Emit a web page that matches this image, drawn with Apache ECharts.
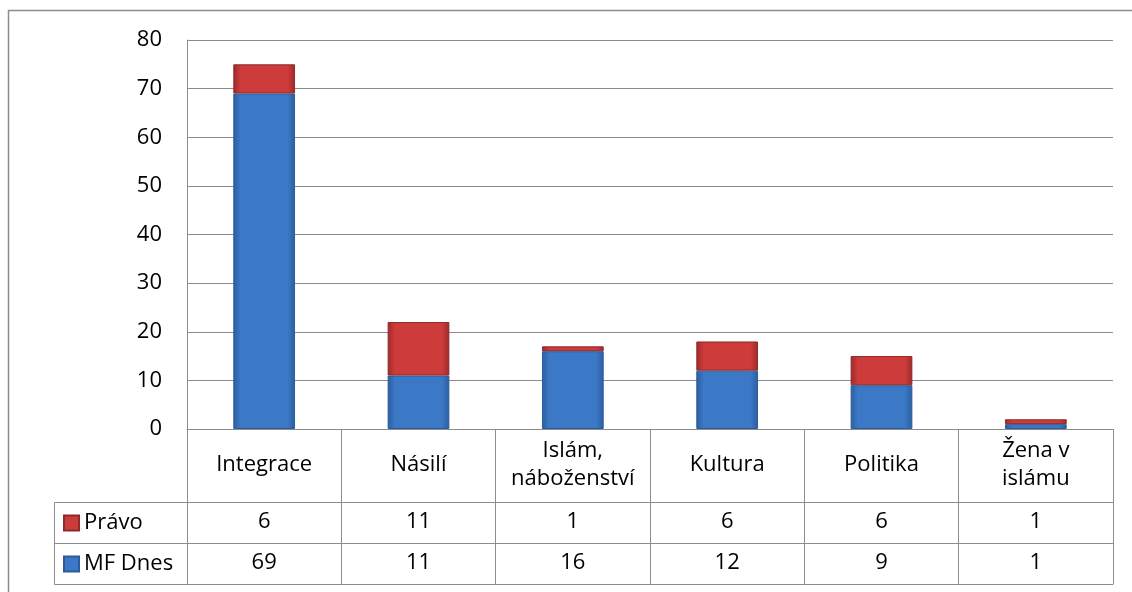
<!DOCTYPE html>
<html>
<head>
<meta charset="utf-8">
<script src="https://cdn.jsdelivr.net/npm/echarts@6/dist/echarts.min.js"></script>
<style>
    html, body { margin: 0; padding: 0; background: #fff; }
    #chart { width: 1132px; height: 592px; }
</style>
</head>
<body>
<div id="chart"></div>
<script>
// data
var categories = ["Integrace", "Násilí", "Islám,\nnáboženství", "Kultura", "Politika", "Žena v\nislámu"];
var pravo = [6, 11, 1, 6, 6, 1];
var mfDnes = [69, 11, 16, 12, 9, 1];
var yMax = 80;
var yStep = 10;

var gridColor = "#8c8c8c";
var font = "'Open Sans', 'Noto Sans', sans-serif";
var fontSize = 22;

function barFill(edge, mid) {
    return new echarts.graphic.LinearGradient(0, 0, 1, 0, [
        { offset: 0, color: edge },
        { offset: 0.12, color: mid },
        { offset: 0.88, color: mid },
        { offset: 1, color: edge }
    ]);
}

// one row of the data table is drawn as an extra category axis
function tableAxis(offset, tickLen, rowValues, labelMargin) {
    return {
        type: "category",
        data: categories,
        position: "bottom",
        offset: offset,
        axisLine: { show: true, lineStyle: { color: gridColor, width: 1 } },
        axisTick: { show: tickLen > 0, interval: 0, length: tickLen, lineStyle: { color: gridColor } },
        axisLabel: {
            show: rowValues != null,
            interval: 0,
            margin: labelMargin,
            verticalAlign: "middle",
            color: "#000",
            fontFamily: font,
            fontSize: fontSize,
            lineHeight: 28,
            formatter: function (v, i) {
                return rowValues === categories ? v : String(rowValues[i]);
            }
        },
        splitLine: { show: false }
    };
}

var chart = echarts.init(document.getElementById("chart"));

var option = {
    animation: false,
    backgroundColor: "#fff",
    grid: { left: 187, right: 19, top: 40, bottom: 163, containLabel: false },
    legend: {
        orient: "vertical",
        left: 63,
        top: 512,
        height: 120,
        padding: 0,
        itemWidth: 15,
        itemHeight: 15,
        itemGap: 19,
        icon: "rect",
        data: ["Právo", "MF Dnes"],
        textStyle: { color: "#000", fontFamily: font, fontSize: fontSize, lineHeight: 15, padding: [0, 0, 0, 0] }
    },
    xAxis: [
        tableAxis(0, 73, categories, 36),
        tableAxis(73, 41, pravo, 20),
        tableAxis(114, 41, mfDnes, 20),
        tableAxis(155, 0, null, 0)
    ],
    yAxis: {
        type: "value",
        min: 0,
        max: yMax,
        interval: yStep,
        axisLine: { show: true, lineStyle: { color: gridColor } },
        axisTick: { show: false },
        axisLabel: { color: "#000", fontFamily: font, fontSize: fontSize, margin: 25 },
        splitLine: { show: true, lineStyle: { color: gridColor, width: 1 } }
    },
    series: [
        {
            name: "MF Dnes",
            type: "bar",
            stack: "total",
            barWidth: "40%",
            data: mfDnes,
            itemStyle: { color: barFill("#2b5e9f", "#3b78c6"), borderColor: "#2d5c98", borderWidth: 1 }
        },
        {
            name: "Právo",
            type: "bar",
            stack: "total",
            barWidth: "40%",
            data: pravo,
            itemStyle: { color: barFill("#9e2a2a", "#cd3b3b"), borderColor: "#8e2a2a", borderWidth: 1 }
        }
    ],
    graphic: [
        {
            type: "rect",
            shape: { x: 8.5, y: 10.5, width: 1140, height: 600 },
            style: { fill: null, stroke: gridColor, lineWidth: 1.5 },
            silent: true
        },
        {
            type: "rect",
            shape: { x: 54.5, y: 502.5, width: 133, height: 82 },
            style: { fill: null, stroke: gridColor, lineWidth: 1 },
            silent: true
        },
        {
            type: "line",
            shape: { x1: 54.5, y1: 543.5, x2: 187, y2: 543.5 },
            style: { stroke: gridColor, lineWidth: 1 },
            silent: true
        }
    ]
};
chart.setOption(option);
</script>
</body>
</html>
